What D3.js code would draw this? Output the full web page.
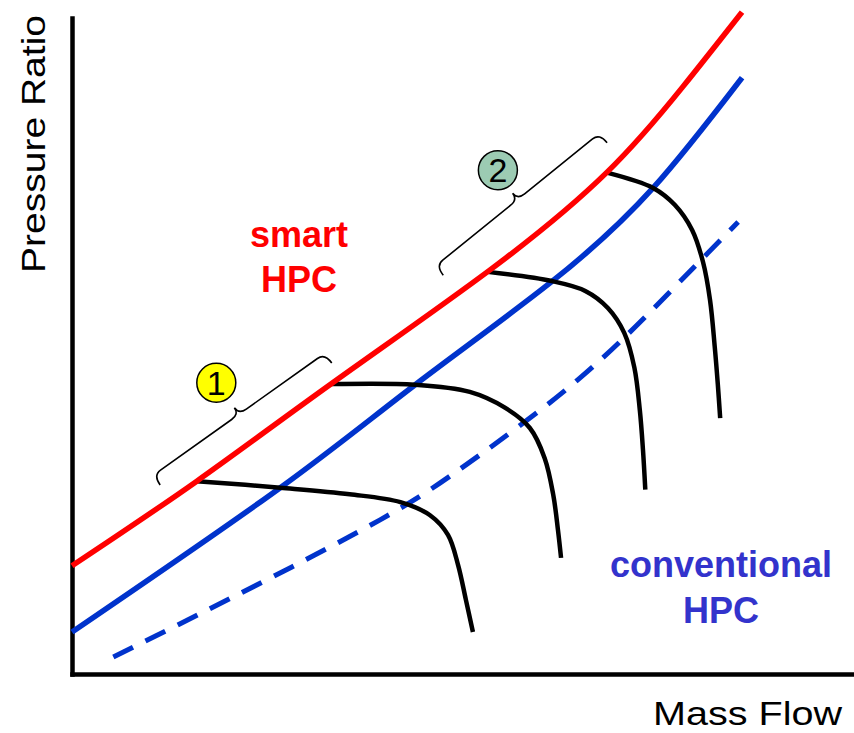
<!DOCTYPE html>
<html>
<head>
<meta charset="utf-8">
<script src="https://cdn.jsdelivr.net/npm/d3@7"></script>
<style>
  html, body { margin: 0; padding: 0; background: #ffffff; }
  svg { display: block; }
</style>
</head>
<body>
<svg id="chart" width="854" height="733"></svg>
<script>
// ---------- data (arbitrary units) ----------
const smartFlow      = [0, 16.0, 33.2, 53.6, 68.6, 78.3, 85.9];
const smartRatio     = [16.5, 29.4, 44.2, 61.6, 76.5, 89.5, 100.9];

const convFlow       = [0, 26.7, 44.0, 61.5, 74.5, 85.9];
const convRatio      = [6.4, 28.4, 44.1, 59.8, 74.1, 90.9];

const surgeFlow      = [5.3, 20.6, 39.5, 51.0, 65.1, 77.1, 85.4];
const surgeRatio     = [2.6, 11.7, 23.5, 32.3, 45.1, 58.8, 68.9];

const speed1Flow  = [16.0, 26.7, 35.6, 42.1, 45.9, 48.2, 49.5, 50.5, 51.4];
const speed1Ratio = [29.4, 28.4, 27.4, 26.2, 24.2, 21.2, 16.6, 11.3, 6.4];
const speed2Flow  = [33.2, 44.0, 51.0, 55.5, 58.7, 60.6, 61.7, 62.3, 62.7];
const speed2Ratio = [44.2, 44.1, 43.0, 40.6, 37.5, 32.9, 27.3, 22.0, 17.7];
const speed3Flow  = [53.3, 61.5, 65.8, 68.7, 70.8, 72.1, 72.8, 73.2, 73.5];
const speed3Ratio = [61.3, 59.9, 58.4, 55.8, 52.0, 46.7, 40.2, 34.2, 28.1];
const speed4Flow  = [68.7, 74.5, 77.3, 79.5, 80.9, 81.8, 82.4, 82.8, 83.1];
const speed4Ratio = [76.4, 74.1, 71.5, 67.7, 62.8, 57.0, 49.9, 44.1, 39.0];

const braceLabels = ["1", "2"];
const braceStartFlow  = [11.3, 47.6];
const braceStartRatio = [28.8, 60.8];
const braceEndFlow    = [33.3, 68.6];
const braceEndRatio   = [47.4, 81.0];
const markerFlow      = [18.5, 54.6];
const markerRatio     = [44.4, 76.8];
const markerFill      = ["#ffff00", "#9ccbb3"];

const xTitle = "Mass Flow";
const yTitle = "Pressure Ratio";
const smartLabel = ["smart", "HPC"];
const convLabel  = ["conventional", "HPC"];

// ---------- drawing ----------
const svg = d3.select("#chart");
const x = d3.scaleLinear().domain([0, 100]).range([72, 852]);
const y = d3.scaleLinear().domain([0, 100]).range([674, 18]);

const zip = (a, b) => a.map((v, i) => [v, b[i]]);
const smoothLine = d3.line()
  .x(d => x(d[0])).y(d => y(d[1]))
  .curve(d3.curveNatural);
const speedLine = d3.line()
  .x(d => x(d[0])).y(d => y(d[1]))
  .curve(d3.curveCatmullRom.alpha(0.5));

// axes (no ticks)
const yAxis = svg.append("g").attr("transform", `translate(${x(0)},0)`)
  .call(d3.axisLeft(y).ticks(0).tickSize(0).tickSizeOuter(0));
const xAxis = svg.append("g").attr("transform", `translate(0,${y(0)})`)
  .call(d3.axisBottom(x).ticks(0).tickSize(0).tickSizeOuter(0));
[yAxis, xAxis].forEach(g => g.select(".domain")
  .attr("stroke", "#000").attr("stroke-width", 4.5).attr("stroke-linecap", "square"));

// dashed blue line
svg.append("path").attr("d", smoothLine(zip(surgeFlow, surgeRatio)))
  .attr("fill", "none").attr("stroke", "#0033cc").attr("stroke-width", 5)
  .attr("stroke-dasharray", "22,14");

// conventional HPC line
svg.append("path").attr("d", smoothLine(zip(convFlow, convRatio)))
  .attr("fill", "none").attr("stroke", "#0033cc").attr("stroke-width", 5.5);

// speed lines
[[speed1Flow, speed1Ratio], [speed2Flow, speed2Ratio],
 [speed3Flow, speed3Ratio], [speed4Flow, speed4Ratio]].forEach(([f, r]) => {
  svg.append("path").attr("d", speedLine(zip(f, r)))
    .attr("fill", "none").attr("stroke", "#000").attr("stroke-width", 4.5);
});

// smart HPC line
svg.append("path").attr("d", smoothLine(zip(smartFlow, smartRatio)))
  .attr("fill", "none").attr("stroke", "#ff0000").attr("stroke-width", 5.5);

// braces
function bracePath(ax, ay, bx, by, a, w, r) {
  const L = Math.hypot(bx - ax, by - ay);
  const ux = (bx - ax) / L, uy = (by - ay) / L;
  const nx = uy, ny = -ux;                 // outward normal (up-left)
  const mx = (ax + bx) / 2, my = (ay + by) / 2;
  const P = (px, py) => `${px.toFixed(2)},${py.toFixed(2)}`;
  let d = "";
  d += `M${P(ax, ay)}`;
  d += `Q${P(ax + nx * a, ay + ny * a)} ${P(ax + nx * a + ux * r, ay + ny * a + uy * r)}`;
  d += `L${P(mx - ux * r + nx * a, my - uy * r + ny * a)}`;
  d += `Q${P(mx + nx * a, my + ny * a)} ${P(mx + nx * w, my + ny * w)}`;
  d += `M${P(bx, by)}`;
  d += `Q${P(bx + nx * a, by + ny * a)} ${P(bx + nx * a - ux * r, by + ny * a - uy * r)}`;
  d += `L${P(mx + ux * r + nx * a, my + uy * r + ny * a)}`;
  d += `Q${P(mx + nx * a, my + ny * a)} ${P(mx + nx * w, my + ny * w)}`;
  return d;
}
braceLabels.forEach((lab, i) => {
  svg.append("path")
    .attr("d", bracePath(x(braceStartFlow[i]), y(braceStartRatio[i]),
                         x(braceEndFlow[i]), y(braceEndRatio[i]), 12, 20, 9))
    .attr("fill", "none").attr("stroke", "#000").attr("stroke-width", 1.6);
  const cx = x(markerFlow[i]), cy = y(markerRatio[i]);
  svg.append("circle").attr("cx", cx).attr("cy", cy).attr("r", 19.5)
    .attr("fill", markerFill[i]).attr("stroke", "#000").attr("stroke-width", 1.5);
  svg.append("text").attr("x", cx).attr("y", cy + 12)
    .attr("text-anchor", "middle")
    .attr("font-family", "Liberation Sans, Arial, sans-serif")
    .attr("font-size", 34).attr("fill", "#000").text(lab);
});

// series labels
const labelFont = "Liberation Sans, Arial, sans-serif";
smartLabel.forEach((t, i) => {
  svg.append("text").attr("x", 299).attr("y", 247 + i * 45)
    .attr("text-anchor", "middle").attr("font-family", labelFont)
    .attr("font-weight", "bold").attr("font-size", 36).attr("fill", "#ff0000").text(t);
});
convLabel.forEach((t, i) => {
  svg.append("text").attr("x", 721).attr("y", 577 + i * 46)
    .attr("text-anchor", "middle").attr("font-family", labelFont)
    .attr("font-weight", "bold").attr("font-size", 36).attr("fill", "#3333cc").text(t);
});

// axis titles
svg.append("text").attr("x", 842).attr("y", 725)
  .attr("text-anchor", "end").attr("font-family", labelFont)
  .attr("font-size", 34).attr("fill", "#000")
  .attr("textLength", 189).attr("lengthAdjust", "spacingAndGlyphs")
  .text(xTitle);
svg.append("text")
  .attr("transform", "translate(45,144) rotate(-90)")
  .attr("text-anchor", "middle").attr("font-family", labelFont)
  .attr("font-size", 33).attr("fill", "#000")
  .attr("textLength", 258).attr("lengthAdjust", "spacingAndGlyphs")
  .text(yTitle);
</script>
</body>
</html>
